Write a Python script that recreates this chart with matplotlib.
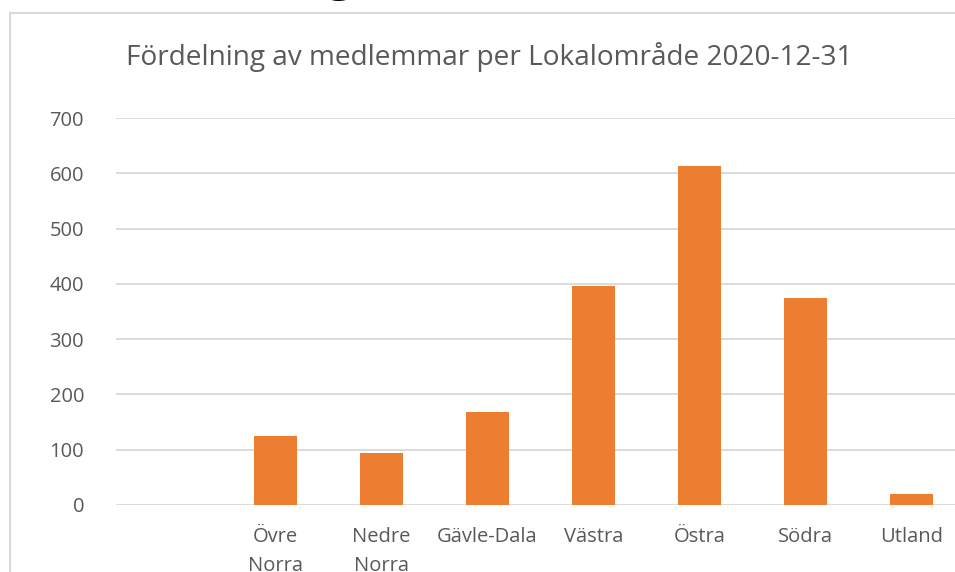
import matplotlib
matplotlib.use("Agg")
import matplotlib.pyplot as plt
from matplotlib.lines import Line2D

categories = ["", "Övre\nNorra", "Nedre\nNorra", "Gävle-Dala", "Västra", "Östra", "Södra", "Utland"]
values = [0, 125, 94, 168, 396, 613, 374, 20]
yticks = [0, 100, 200, 300, 400, 500, 600, 700]
title = "Fördelning av medlemmar per Lokalområde 2020-12-31"

W, H = 955, 572
fig = plt.figure(figsize=(W / 100, H / 100), dpi=100)
plt.rcParams['font.family'] = ['Open Sans', 'DejaVu Sans']

ax = fig.add_axes([116 / W, 1 - 505 / H, (965 - 116) / W, (505 - 118) / H])
x = list(range(len(categories)))
ax.bar(x, values, width=0.405, color="#ED7D31", zorder=3)
ax.set_xlim(-0.5, len(categories) - 0.5)
ax.set_ylim(0, 700)
ax.set_yticks(yticks)
ax.set_yticklabels([str(v) for v in yticks], color="#595959", fontsize=14.5)
ax.set_xticks(x)
ax.set_xticklabels(categories, color="#595959", fontsize=14.5, linespacing=1.6)
ax.tick_params(axis='both', length=0)
ax.tick_params(axis='y', pad=23)
ax.tick_params(axis='x', pad=16)
for s in ax.spines.values():
    s.set_visible(False)
ax.grid(axis='y', color="#d9d9d9", linewidth=1.3, zorder=0)
ax.set_axisbelow(True)

fig.text(489 / W, 1 - 57 / H, title, ha='center', va='center', fontsize=20.2, color="#595959")

# chart frame
fig.add_artist(Line2D([10 / W, 10 / W], [0, 1 - 13 / H], color="#d9d9d9", linewidth=1.5))
fig.add_artist(Line2D([10 / W, 1], [1 - 13 / H, 1 - 13 / H], color="#d9d9d9", linewidth=1.5))

# cropped heading above chart
fig.text(340 / W, 1 + 10 / H, "g", ha='center', va='baseline', fontsize=34, fontweight='bold', color="black")

fig.savefig("out.png", dpi=100)
